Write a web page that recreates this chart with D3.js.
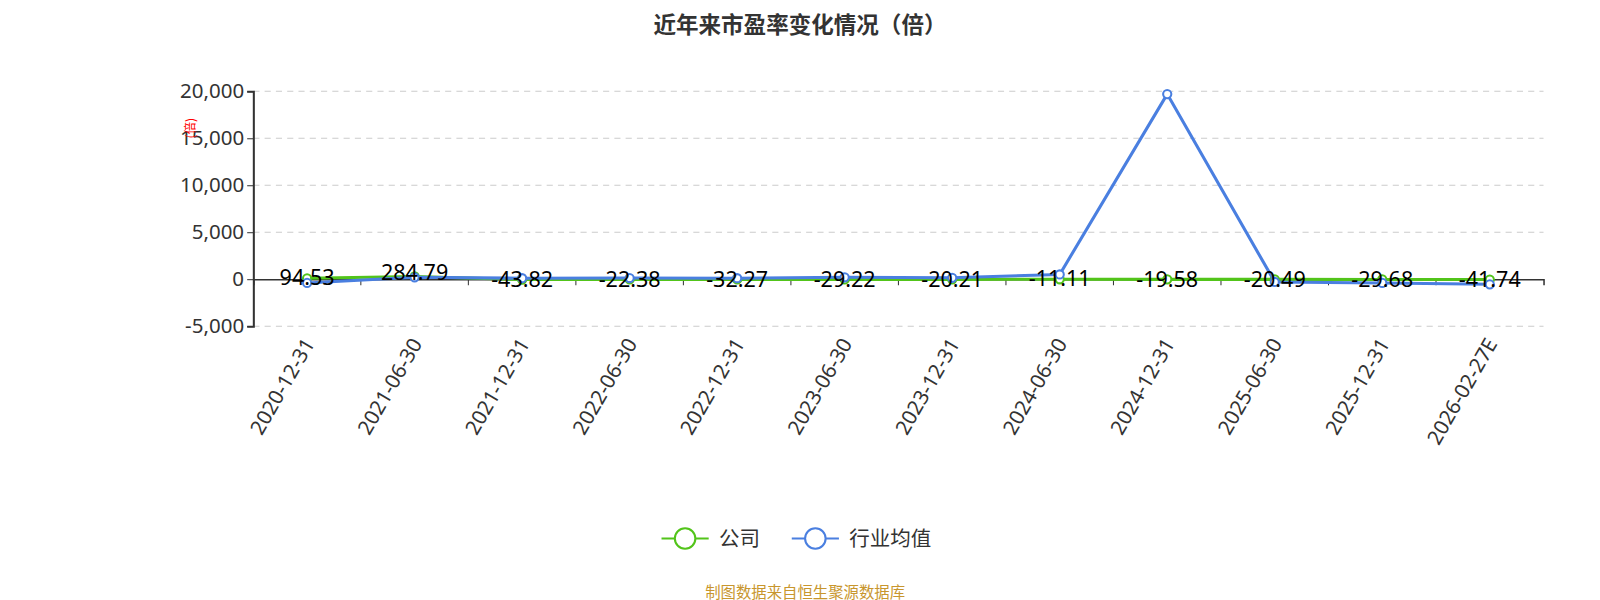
<!DOCTYPE html><html><head><meta charset="utf-8"><script src="https://cdn.jsdelivr.net/npm/d3@7"></script>
<style>body{margin:0;background:#fff;font-family:"Noto Sans CJK SC","Noto Sans",sans-serif}</style></head><body><svg id="c" width="1600" height="600"></svg><script>
const categories=["2020-12-31","2021-06-30","2021-12-31","2022-06-30","2022-12-31","2023-06-30","2023-12-31","2024-06-30","2024-12-31","2025-06-30","2025-12-31","2026-02-27E"];
const company=[94.53,284.79,-43.82,-22.38,-32.27,-29.22,-20.21,-11.11,-19.58,-20.49,-29.68,-41.74];
const industry=[-400,200,100,120,100,200,150,500,19700,-300,-400,-550];
const yTicks=[-5000,0,5000,10000,15000,20000];
const svg=d3.select("#c").append("g").attr("transform","scale(1.0256)");
const x=d3.scaleBand().domain(categories).range([247,1505]);
const y=d3.scaleLinear().domain([-5000,20000]).range([318,89]);
svg.append("text").attr("x",780).attr("y",32).attr("text-anchor","middle").attr("font-size",22).attr("font-weight","bold").attr("fill","#333").text("近年来市盈率变化情况（倍）");
const g=svg.append("g");
yTicks.forEach(t=>{if(t!==0)g.append("line").attr("x1",247).attr("x2",1505).attr("y1",y(t)).attr("y2",y(t)).attr("stroke","#ccc").attr("stroke-dasharray","6,5");});
const ya=svg.append("g").attr("transform","translate(247,0)").call(d3.axisLeft(y).tickValues(yTicks).tickFormat(d=>d3.format(",")(d).replace("−","-")).tickSize(6));
ya.select(".domain").attr("stroke","#333").attr("stroke-width",2);
ya.selectAll("line").attr("stroke","#333");
ya.selectAll("text").attr("font-size",20).attr("fill","#333").attr("font-family","Noto Sans");
const xa=svg.append("g").attr("transform",`translate(0,${y(0)})`).call(d3.axisBottom(x).tickValues(categories.slice(1)).tickFormat("").tickSize(6));
xa.select(".domain").attr("stroke","#333").attr("stroke-width",1.5);
xa.selectAll(".tick").attr("transform",d=>`translate(${x(d)},0)`);
xa.selectAll("line").attr("stroke","#333");
categories.forEach(c=>{const cx=x(c)+x.bandwidth()/2;svg.append("text").attr("transform",`translate(${cx+8},${335}) rotate(-60)`).attr("text-anchor","end").attr("font-size",20).attr("fill","#333").attr("font-family","Noto Sans").text(c);});
svg.append("text").attr("transform","translate(190,125) rotate(-90)").attr("text-anchor","middle").attr("font-size",12).attr("fill","red").text("(倍)");
function series(vals,color){const line=d3.line().x((d,i)=>x(categories[i])+x.bandwidth()/2).y(d=>y(d));
svg.append("path").attr("d",line(vals)).attr("fill","none").attr("stroke",color).attr("stroke-width",3);
vals.forEach((v,i)=>svg.append("circle").attr("cx",x(categories[i])+x.bandwidth()/2).attr("cy",y(v)).attr("r",4).attr("fill","#fff").attr("stroke",color).attr("stroke-width",2));}
series(company,"#52c41a");series(industry,"#4a7fe0");
company.forEach((v,i)=>svg.append("text").attr("x",x(categories[i])+x.bandwidth()/2).attr("y",y(v)+7+(v>100?-4:0)).attr("text-anchor","middle").attr("font-size",21).attr("fill","#000").attr("font-family","Noto Sans").text(v.toFixed(2)));
const leg=[["公司","#52c41a",645],["行业均值","#4a7fe0",772]];
leg.forEach(([n,c,lx])=>{svg.append("line").attr("x1",lx).attr("x2",lx+46).attr("y1",525).attr("y2",525).attr("stroke",c).attr("stroke-width",2);
svg.append("circle").attr("cx",lx+23).attr("cy",525).attr("r",10).attr("fill","#fff").attr("stroke",c).attr("stroke-width",2);
svg.append("text").attr("x",lx+56).attr("y",532).attr("font-size",20).attr("fill","#333").text(n);});
svg.append("text").attr("x",785).attr("y",583).attr("text-anchor","middle").attr("font-size",15).attr("fill","#c8962d").text("制图数据来自恒生聚源数据库");
</script></body></html>
